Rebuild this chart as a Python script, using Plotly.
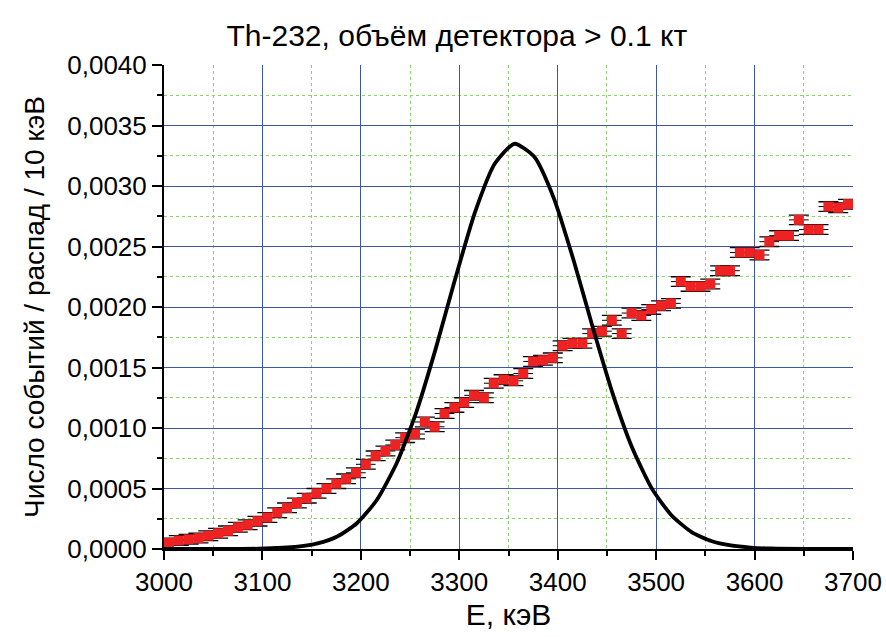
import plotly.graph_objects as go

# Measured spectrum (bin centres, keV) and counts per decay per 10 keV
energy = [3005, 3015, 3025, 3035, 3045, 3055, 3065, 3075, 3085, 3095,
          3105, 3115, 3125, 3135, 3145, 3155, 3165, 3175, 3185, 3195,
          3205, 3215, 3225, 3235, 3245, 3255, 3265, 3275, 3285, 3295,
          3305, 3315, 3325, 3335, 3345, 3355, 3365, 3375, 3385, 3395,
          3405, 3415, 3425, 3435, 3445, 3455, 3465, 3475, 3485, 3495,
          3505, 3515, 3525, 3535, 3545, 3555, 3565, 3575, 3585, 3595,
          3605, 3615, 3625, 3635, 3645, 3655, 3665, 3675, 3685, 3695]
counts = [0.00005, 0.00007, 0.00008, 0.00009, 0.00011, 0.00013, 0.00015, 0.00018, 0.00020, 0.00023,
          0.00026, 0.00030, 0.00034, 0.00038, 0.00042, 0.00046, 0.00050, 0.00054, 0.00058, 0.00063,
          0.00070, 0.00077, 0.00081, 0.00086, 0.00092, 0.00095, 0.00105, 0.00101, 0.00112, 0.00117,
          0.00121, 0.00127, 0.00125, 0.00137, 0.00140, 0.00139, 0.00145, 0.00155, 0.00156, 0.00158,
          0.00168, 0.00170, 0.00170, 0.00178, 0.00180, 0.00189, 0.00178, 0.00195, 0.00193, 0.00198,
          0.00201, 0.00203, 0.00221, 0.00217, 0.00217, 0.00219, 0.00230, 0.00230, 0.00245, 0.00245,
          0.00243, 0.00254, 0.00259, 0.00259, 0.00272, 0.00264, 0.00264, 0.00283, 0.00282, 0.00285]
energy_err = 10        # keV, horizontal half-width
counts_err = 0.00004   # vertical error

# Signal peak curve
peak_e = [3000, 3046, 3096, 3136, 3156, 3176, 3196, 3216, 3236, 3256, 3276, 3296, 3316,
          3336, 3356, 3376, 3396, 3416, 3436, 3456, 3476, 3496, 3516, 3536, 3556,
          3576, 3596, 3616, 3656, 3700]
peak_v = [0.0, 0.0000001, 0.0000025, 0.000019, 0.000046, 0.000103, 0.000213, 0.000403,
          0.000702, 0.001123, 0.001654, 0.002237, 0.002784, 0.003184, 0.003349, 0.003243,
          0.002900, 0.002390, 0.001820, 0.001280, 0.000830, 0.000495, 0.000275, 0.000140,
          0.000066, 0.000029, 0.000012, 0.000004, 0.000001, 0.0]

x_ticks = [3000, 3100, 3200, 3300, 3400, 3500, 3600, 3700]

FONT = "Liberation Sans, Arial, sans-serif"

fig = go.Figure()
fig.add_trace(go.Scatter(
    x=energy, y=counts, mode="markers",
    marker=dict(symbol="square", size=10, color="#ee2222", line=dict(width=0)),
    error_y=dict(type="constant", value=counts_err, color="black", thickness=1.3, width=10),
    error_x=dict(type="constant", value=energy_err, color="black", thickness=1.0, width=0),
    showlegend=False,
))
fig.add_trace(go.Scatter(
    x=peak_e, y=peak_v, mode="lines",
    line=dict(color="black", width=3.8, shape="spline", smoothing=0.6),
    showlegend=False,
))

fig.update_layout(
    width=886, height=637,
    margin=dict(l=164, r=33, t=65, b=88),
    paper_bgcolor="white", plot_bgcolor="white",
    separators=",.",
    font=dict(family=FONT, size=26, color="black"),
    title=dict(text="Th-232, объём детектора > 0.1 кт", font=dict(size=30, family=FONT),
               x=0.425, xref="paper", xanchor="center", y=1 - 35 / 637, yref="container",
               yanchor="middle"),
)
fig.update_xaxes(
    range=[3000, 3700], tickvals=x_ticks, tickformat="d", automargin=False,
    showline=True, linecolor="black", linewidth=2,
    ticks="outside", ticklen=9, tickwidth=2, tickcolor="black",
    showgrid=True, gridcolor="#3f56a8", gridwidth=1, zeroline=False,
    minor=dict(dtick=50, ticks="outside", ticklen=5, tickwidth=2, tickcolor="black",
               showgrid=True, gridcolor="#8fd070", griddash="dot", gridwidth=1),
    title=dict(text="E, кэВ", font=dict(size=30), standoff=8),
    tickfont=dict(size=26),
)
fig.update_yaxes(
    range=[0, 0.004], dtick=0.0005, tick0=0, tickformat=".4f", automargin=False,
    showline=True, linecolor="black", linewidth=2,
    ticks="outside", ticklen=10, tickwidth=2, tickcolor="black",
    showgrid=True, gridcolor="#3f56a8", gridwidth=1, zeroline=False,
    minor=dict(dtick=0.00025, ticks="outside", ticklen=5, tickwidth=2, tickcolor="black",
               showgrid=True, gridcolor="#8fd070", griddash="dot", gridwidth=1),
    title=dict(text="Число событий / распад / 10 кэВ", font=dict(size=28), standoff=14),
    tickfont=dict(size=26),
)

fig.write_html("out.html")
